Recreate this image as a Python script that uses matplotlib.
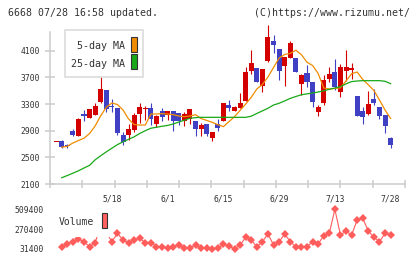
import matplotlib
matplotlib.use("Agg")
import matplotlib.pyplot as plt
from matplotlib.patches import Rectangle
import numpy as np

# ---------------- data ----------------
# day index -1 .. 59 (2023/05/01 .. 07/28)
days = list(range(-1, 60))
opens = [2730, 2745, 2675, 2900, 2825, 3145, 3095, 3140, 3325, 3510, 3275, 3240, 2835, 2835, 2910,
         3150, 3220, 3240, 3000, 3195, 3135, 3195, 3165, 3045, 3075, 3045, 2925, 3000, 2790, 3000,
         3045, 3285, 3195, 3240, 3345, 3795, 3840, 3570, 3945, 4245, 4125, 3870, 3990, 3990, 3600,
         3765, 3630, 3180, 3315, 3675, 3780, 3480, 3795, 3810, 3420, 3195, 3150, 3375, 3255, 3135, 2790]
highs = [2730, 2760, 2700, 2925, 3090, 3210, 3225, 3315, 3710, 3510, 3375, 3240, 2880, 3000, 3165,
         3315, 3270, 3315, 3135, 3240, 3195, 3195, 3165, 3180, 3225, 3045, 3015, 3000, 2880, 3075,
         3315, 3360, 3270, 3465, 3855, 4110, 3840, 3825, 4485, 4335, 4125, 4005, 4245, 3990, 3750,
         3885, 3630, 3285, 3735, 3855, 3975, 3900, 4110, 3915, 3420, 3255, 3495, 3525, 3255, 3135, 2805]
lows = [2730, 2645, 2640, 2825, 2825, 3050, 3095, 3140, 3310, 3180, 3185, 2835, 2685, 2760, 2885,
        3015, 3060, 2985, 2955, 3045, 3060, 2895, 2985, 2970, 3000, 2820, 2820, 2820, 2745, 2895,
        3045, 3195, 3195, 3240, 3345, 3750, 3630, 3480, 3930, 4065, 3660, 3570, 3990, 3780, 3435,
        3555, 3255, 3120, 3285, 3630, 3510, 3405, 3645, 3675, 3120, 3000, 3135, 3285, 3075, 2865, 2640]
closes = [2730, 2655, 2665, 2835, 3075, 3125, 3225, 3270, 3525, 3225, 3260, 2865, 2735, 2925, 3135,
          3255, 3230, 3075, 3120, 3105, 3195, 3045, 3045, 3150, 3225, 2925, 2985, 2850, 2880, 2940,
          3315, 3240, 3255, 3315, 3780, 3915, 3630, 3825, 4305, 4185, 3795, 4005, 4215, 3780, 3735,
          3630, 3330, 3255, 3660, 3750, 3555, 3855, 3855, 3840, 3120, 3105, 3300, 3315, 3120, 2970, 2685]

# values for day 0 .. 59
ma_days = list(range(0, 60))
ma5 = [2652, 2665, 2715, 2752, 2787, 2857, 2971, 3124, 3252, 3315, 3292, 3210, 3075, 2992, 2985,
       2985, 3150, 3150, 3155, 3150, 3140, 3120, 3110, 3120, 3140, 3082, 3054, 3025, 2990, 2960,
       3035, 3110, 3204, 3300, 3400, 3525, 3593, 3705, 3848, 3990, 4043, 4059, 4107, 4040, 3926,
       3878, 3758, 3540, 3525, 3533, 3543, 3645, 3755, 3780, 3668, 3588, 3503, 3360, 3210, 3083]
ma25 = [2194, 2227, 2262, 2298, 2340, 2380, 2463, 2525, 2582, 2637, 2691, 2732, 2771, 2808, 2858,
        2900, 2937, 2951, 2966, 2979, 3000, 3029, 3057, 3086, 3095, 3100, 3100, 3100, 3100, 3100,
        3100, 3100, 3100, 3100, 3117, 3158, 3197, 3236, 3285, 3311, 3347, 3384, 3413, 3438, 3452,
        3465, 3480, 3498, 3521, 3540, 3560, 3602, 3636, 3645, 3650, 3650, 3650, 3650, 3641, 3605]
volume = [59100, 91600, 119300, 151800, 119300, 59100, 107300, 305000, 228000, 119300,
          220400, 139800, 107300, 139800, 160200, 107300, 107300, 59100, 59100, 39800,
          59100, 79600, 39800, 39800, 79600, 39800, 39800, 31400, 39800, 91600,
          67500, 33000, 79600, 172300, 139800, 59100, 119300, 212000, 79600, 119300,
          212000, 119300, 59100, 59100, 59100, 119300, 91600, 191500, 220400, 509400,
          200000, 248100, 200000, 380600, 401000, 248100, 172300, 119300, 220400, 200000]

price_ticks = [2100, 2500, 2900, 3300, 3700, 4100]
date_pos = [9, 19, 29, 39, 49, 59]
date_labels = ["5/18", "6/1", "6/15", "6/29", "7/13", "7/28"]
vol_ticks = [31400, 270400, 509400]

# ---------------- style ----------------
W, H = 420, 259
MONO = "DejaVu Sans Mono"
TXT = "#333333"
GRID = "#cccccc"
UP = "#d40000"
DOWN = "#4040c4"
XLIM = (-2.1, 61.58)

fig = plt.figure(figsize=(W / 100, H / 100), dpi=100)
fig.patch.set_facecolor("white")

# ---------------- price panel ----------------
ax = fig.add_axes([50 / W, 1 - 184 / H, 355 / W, (184 - 25) / H])
ax.set_facecolor("none")
ax.set_xlim(*XLIM)
ax.set_ylim(2100, 4485)
for s in ["top", "right"]:
    ax.spines[s].set_visible(False)
for s in ["left", "bottom"]:
    ax.spines[s].set_color(GRID)
    ax.spines[s].set_linewidth(1.1)
ax.spines["left"].set_bounds(2100, 4380)

o = np.array(opens, float)
c = np.array(closes, float)
hi = np.array(highs, float)
lo = np.array(lows, float)
d = np.array(days, float)
cols = [UP if cc >= oo else DOWN for oo, cc in zip(o, c)]
ax.vlines(d, lo, hi, colors=cols, linewidth=0.8, zorder=2, clip_on=False)
bottoms = np.minimum(o, c)
heights = np.maximum(np.abs(c - o), 14)
ax.bar(d, heights, bottom=bottoms, width=0.9, color=cols, linewidth=0, zorder=3)

ax.plot(ma_days, ma5, color="#f08c00", linewidth=0.9, zorder=4)
ax.plot(ma_days, ma25, color="#18a818", linewidth=0.9, zorder=4)

ax.set_yticks(price_ticks)
ax.set_yticklabels([str(v) for v in price_ticks])
ax.tick_params(axis="y", direction="inout", length=6.5, width=1.1, color=GRID,
               labelsize=5.8, labelcolor=TXT, pad=4.0)
ax.set_xticks(date_pos)
ax.set_xticklabels(date_labels)
ax.set_xticks(np.linspace(XLIM[0], XLIM[1], 12), minor=True)
ax.tick_params(axis="x", which="major", length=0, labelsize=5.8, labelcolor=TXT, pad=7.5)
ax.tick_params(axis="x", which="minor", direction="inout", length=6, width=1.1, color=GRID)
for lab in ax.get_xticklabels() + ax.get_yticklabels():
    lab.set_family(MONO)

# ---------------- volume panel ----------------
axv = fig.add_axes([50 / W, 1 - 249 / H, 355 / W, (249 - 209.3) / H])
axv.set_facecolor("none")
axv.set_xlim(*XLIM)
axv.set_ylim(31400, 509400)
for s in axv.spines.values():
    s.set_visible(False)
axv.plot(ma_days, volume, color="#ff5c5c", linewidth=0.8, marker="D", markersize=4.2,
         markeredgewidth=0, clip_on=False, zorder=2)
axv.set_xticks([])
axv.set_yticks(vol_ticks)
axv.set_yticklabels([str(v) for v in vol_ticks])
axv.tick_params(axis="y", length=0, labelsize=5.8, labelcolor=TXT, pad=4.3)
for lab in axv.get_yticklabels():
    lab.set_family(MONO)

# ---------------- legends ----------------
fig.add_artist(Rectangle((65 / W, 1 - 76.7 / H), 78.3 / W, 46.7 / H, transform=fig.transFigure,
                         facecolor="white", edgecolor="#d8d8d8", linewidth=1.1, zorder=5))
fig.text(125 / W, 1 - 46.3 / H, "5-day MA", ha="right", va="center", fontsize=7.2,
         family=MONO, color=TXT, zorder=6)
fig.text(125 / W, 1 - 63.5 / H, "25-day MA", ha="right", va="center", fontsize=7.2,
         family=MONO, color=TXT, zorder=6)
fig.add_artist(Rectangle((131 / W, 1 - 52.3 / H), 6.3 / W, 15 / H, transform=fig.transFigure,
                         facecolor="#f08c00", edgecolor="#333333", linewidth=0.8, zorder=6))
fig.add_artist(Rectangle((131 / W, 1 - 69.3 / H), 6.3 / W, 15.3 / H, transform=fig.transFigure,
                         facecolor="#18a818", edgecolor="#333333", linewidth=0.8, zorder=6))

fig.add_artist(Rectangle((55 / W, 1 - 236.5 / H), 54.5 / W, 28.5 / H, transform=fig.transFigure,
                         facecolor="white", edgecolor="none", zorder=5))
fig.text(59 / W, 1 - 221.7 / H, "Volume", ha="left", va="center", fontsize=7.0,
         family=MONO, color=TXT, zorder=6)
fig.add_artist(Rectangle((101.5 / W, 1 - 228.3 / H), 6 / W, 15 / H, transform=fig.transFigure,
                         facecolor="#ff6060", edgecolor="#333333", linewidth=0.8, zorder=6))

# ---------------- header ----------------
fig.text(8 / W, 1 - 12.8 / H, "6668 07/28 16:58 updated.", ha="left", va="center",
         fontsize=7.1, family=MONO, color=TXT)
fig.text(410 / W, 1 - 12.8 / H, "(C)https://www.rizumu.net/", ha="right", va="center",
         fontsize=7.1, family=MONO, color=TXT)

fig.savefig("out.png", dpi=100, facecolor="white")
